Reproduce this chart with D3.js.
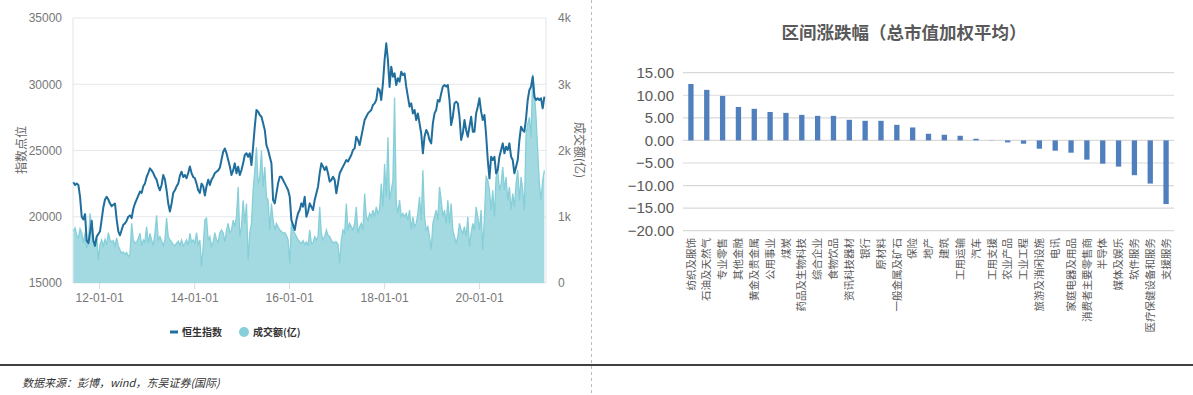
<!DOCTYPE html>
<html>
<head>
<meta charset="utf-8">
<script src="https://cdn.jsdelivr.net/npm/d3@7"></script>
<style>
body { margin: 0; background: #fff; }
svg text { font-family: "Liberation Sans", "Noto Sans CJK SC", sans-serif; }
</style>
</head>
<body>
<svg id="chart" width="1193" height="395"></svg>
<script>
// Hang Seng index and turnover, one reading every 12.8 days
var hsiStart = new Date(2011, 5, 17);
var stepDays = 12.8;

var hsiValues = [
    22600,22400,22500,22400,21500,20000,19800,20200,18200,18000,
    18800,19700,18200,17800,18500,18700,18900,19800,20700,21300,
    21500,21300,21000,20800,20900,21000,19800,18900,18600,19000,
    19400,19500,19700,20000,20100,19900,20600,21000,21300,21600,
    21900,21800,22300,22500,23000,23300,23650,23500,23300,23000,
    22800,22300,22000,22400,23150,22800,22000,21000,20400,21000,
    21800,22000,22300,22500,23100,23400,23000,23150,22900,23300,
    23800,23300,23000,22900,22500,22000,21800,22500,22300,21600,
    22300,22800,22400,22800,23000,23300,23400,23500,23700,24300,
    24900,25150,24800,24300,23800,23150,23500,
    24030,23280,23780,23150,23530,24030,24660,24790,24530,24790,
    23900,25290,26800,28060,27930,27680,27550,27050,26550,25400,
    25040,24530,24030,21260,21010,21770,22520,23020,23020,22770,
    22520,22270,22020,21510,19750,19380,19000,19750,20260,20510,
    21010,20760,21510,20000,20380,21010,20760,20510,21260,21770,
    22270,23280,24030,23780,23530,23780,23280,22650,22770,23020,
    22770,21770,22520,23280,23530,23780,24030,24280,24160,24410,
    24660,25040,25160,26040,25790,25410,26040,26670,27300,27550,
    27800,27930,28060,28430,28560,28810,29690,29570,28810,30070,
    31830,33090,31830,29800,31330,30570,30820,
    29940,30450,30200,30950,30700,30820,29820,29060,28310,28560,
    27800,28060,27300,27800,27050,26300,24790,26040,26550,26300,
    25790,25540,27050,27800,28060,28810,28690,29310,29820,29940,
    29820,29940,28810,26920,27550,28560,28690,28560,27550,25790,
    26300,27300,26550,26040,26800,27550,26420,26420,27800,28310,
    28940,27930,27300,27680,26170,24280,22900,24530,24280,24530,
    23280,23530,24530,25040,25540,24790,25290,25040,25540,24530,
    24280,23280,23780,24280,25790,26800,26550,26420,27430,28810,
    29570,29820,30570,29060,28810,28940,28810,28940,28180,29060
];

var turnoverValues = [
    780,830,720,680,820,760,600,760,520,600,
    1050,820,650,560,700,350,580,650,560,660,
    580,760,650,620,640,560,680,560,500,450,
    470,430,460,400,430,900,650,600,620,670,
    750,560,650,620,850,600,750,650,560,750,
    1020,650,700,640,560,650,980,700,650,620,
    580,560,600,630,570,650,560,600,650,570,
    750,620,650,600,760,570,650,250,550,950,
    980,650,700,560,620,760,650,620,760,800,
    760,620,800,900,760,800,950,
    850,1000,1450,700,850,1250,900,1200,350,750,
    900,1400,1700,2050,1500,1600,2000,1450,1750,1300,
    1250,800,1200,950,800,900,850,800,780,750,
    760,720,650,300,900,800,750,700,650,620,
    600,640,580,620,560,800,600,600,700,650,
    700,1150,750,650,700,800,720,700,650,600,
    620,620,580,300,650,800,750,1200,800,900,
    850,800,900,1150,750,850,900,800,1350,1000,
    950,1050,1000,1100,1000,1150,1050,1100,1500,1150,
    1800,1300,2200,1250,1400,1550,2800,
    1200,1050,1250,1000,1050,1000,1050,950,1100,800,
    1000,850,900,1050,1300,950,1700,1000,800,850,
    700,500,900,1000,1100,950,1450,1250,1000,1100,
    900,1250,900,1200,800,700,600,700,900,800,
    750,850,700,1000,550,750,900,800,1150,1000,
    800,1100,500,1000,1600,1550,1400,1100,1400,1000,
    1600,1700,1400,1500,1750,1400,1600,1250,1450,1100,
    1350,1150,1500,1700,1250,1600,1400,1100,2250,2400,
    2500,2200,3150,2900,2500,2000,1500,1250,1550,1700
];

var xTickDates = ["2012-01-01", "2014-01-01", "2016-01-01", "2018-01-01", "2020-01-01"];
var indexTicks = [15000, 20000, 25000, 30000, 35000];
var turnoverTicks = [0, 1000, 2000, 3000, 4000];
var turnoverTickLabels = ["0", "1k", "2k", "3k", "4k"];

// sector returns
var sectors = ["纺织及服饰","石油及天然气","专业零售","其他金融","黄金及贵金属","公用事业","煤炭",
    "药品及生物科技","综合企业","食物饮品","资讯科技器材","银行","原材料","一般金属及矿石","保险",
    "地产","建筑","工用运输","汽车","工用支援","农业产品","工业工程","旅游及消闲设施","电讯",
    "家庭电器及用品","消费者主要零售商","半导体","媒体及娱乐","软件服务","医疗保健设备和服务","支援服务"];
var sectorChange = [12.5,11.2,9.85,7.4,7.0,6.3,6.1,5.66,5.44,5.44,4.56,4.34,4.34,3.45,2.87,
    1.47,1.25,1.03,0.37,0.04,-0.44,-0.73,-1.84,-2.28,-2.72,-4.26,-5.15,-5.8,-7.7,-9.56,-14.1];
var barTicks = [15, 10, 5, 0, -5, -10, -15, -20];

var svg = d3.select("#chart");
var narrow = '"Liberation Sans Narrow", "Liberation Sans", sans-serif';
var cjk = '"Noto Sans CJK SC", sans-serif';

//Draw the index / turnover chart
function DrawLineChart() {
    var left = 73, right = 546, top = 18, bottom = 283;
    var dates = hsiValues.map((v, i) => new Date(hsiStart.getTime() + i * stepDays * 86400000));

    var x = d3.scaleTime().domain([new Date(2011, 5, 14), new Date(2021, 4, 30)]).range([left, right]);
    var y = d3.scaleLinear().domain([15000, 35000]).range([bottom, top]);
    var y2 = d3.scaleLinear().domain([0, 4000]).range([bottom, top]);

    var g = svg.append("g");

    g.selectAll(".grid").data(indexTicks).join("line")
        .attr("x1", left).attr("x2", right)
        .attr("y1", d => y(d)).attr("y2", d => y(d))
        .attr("stroke", "#e4e7ec").attr("stroke-width", 1);
    g.append("line").attr("x1", left).attr("x2", left).attr("y1", top).attr("y2", bottom).attr("stroke", "#dfe4ec");
    g.append("line").attr("x1", right).attr("x2", right).attr("y1", top).attr("y2", bottom).attr("stroke", "#dfe4ec");

    var area = d3.area().x((d, i) => x(dates[i])).y0(bottom).y1(d => y2(d));
    g.append("path").datum(turnoverValues).attr("d", area).attr("fill", "#a3d9e0");
    g.append("path").datum(turnoverValues)
        .attr("d", d3.line().x((d, i) => x(dates[i])).y(d => y2(d)))
        .attr("fill", "none").attr("stroke", "#86cfd8").attr("stroke-width", 1.3);

    g.append("path").datum(hsiValues)
        .attr("d", d3.line().x((d, i) => x(dates[i])).y(d => y(d)))
        .attr("fill", "none").attr("stroke", "#1f6e9c").attr("stroke-width", 2)
        .attr("stroke-linejoin", "round");

    var xAxis = g.append("g").attr("transform", `translate(0,${bottom})`)
        .call(d3.axisBottom(x).tickValues(xTickDates.map(d => d3.timeParse("%Y-%m-%d")(d)))
            .tickFormat(d3.timeFormat("%y-%m-%d")).tickSize(6).tickPadding(4));
    xAxis.select(".domain").remove();
    xAxis.selectAll("line").attr("stroke", "#d5dce6");
    xAxis.selectAll("text").attr("fill", "#777").style("font-family", narrow).style("font-size", "12px");

    var yAxis = g.append("g").attr("transform", `translate(${left},0)`)
        .call(d3.axisLeft(y).tickValues(indexTicks).tickFormat(d3.format("d")).tickSize(0).tickPadding(11));
    yAxis.select(".domain").remove();
    yAxis.selectAll("text").attr("fill", "#777").style("font-family", narrow).style("font-size", "12px");

    var y2Axis = g.append("g").attr("transform", `translate(${right},0)`)
        .call(d3.axisRight(y2).tickValues(turnoverTicks).tickFormat((d, i) => turnoverTickLabels[i]).tickSize(0).tickPadding(12));
    y2Axis.select(".domain").remove();
    y2Axis.selectAll("text").attr("fill", "#777").style("font-family", narrow).style("font-size", "12px");

    g.append("text").attr("transform", "translate(22,150) rotate(-90)")
        .attr("text-anchor", "middle").attr("dy", "0.35em")
        .attr("fill", "#666").style("font-family", cjk).style("font-size", "12px").text("指数点位");
    g.append("text").attr("transform", "translate(579,150) rotate(90)")
        .attr("text-anchor", "middle").attr("dy", "0.35em")
        .attr("fill", "#666").style("font-family", cjk).style("font-size", "12px").text("成交额(亿)");

    // legend
    var lg = g.append("g").attr("transform", "translate(0,332)");
    lg.append("line").attr("x1", 170).attr("x2", 178).attr("stroke", "#1f6e9c").attr("stroke-width", 3);
    lg.append("text").attr("x", 182).attr("dy", "0.35em").attr("fill", "#333")
        .style("font-family", cjk).style("font-size", "10px").style("font-weight", "bold").text("恒生指数");
    lg.append("circle").attr("cx", 244).attr("r", 5).attr("fill", "#86cfd8");
    lg.append("text").attr("x", 253).attr("dy", "0.35em").attr("fill", "#333")
        .style("font-family", cjk).style("font-size", "10px").style("font-weight", "bold").text("成交额(亿)");
}

//Draw the sector bar chart
function DrawBarChart() {
    var left = 683, right = 1174, top = 72.7, bottom = 230.7;

    var x = d3.scaleBand().domain(sectors).range([left, right]).paddingInner(0.665).paddingOuter(0.3325);
    var y = d3.scaleLinear().domain([-20, 15]).range([bottom, top]);

    var g = svg.append("g");

    g.append("text").attr("x", 904).attr("y", 33).attr("dy", "0.35em").attr("text-anchor", "middle")
        .attr("fill", "#595959").style("font-family", cjk).style("font-size", "17.5px").style("font-weight", "bold")
        .text("区间涨跌幅（总市值加权平均）");

    g.selectAll(".grid").data(barTicks).join("line")
        .attr("x1", left).attr("x2", right)
        .attr("y1", d => y(d)).attr("y2", d => y(d))
        .attr("stroke", "#d9d9d9").attr("stroke-width", 1.2);

    var yAxis = g.append("g").attr("transform", `translate(${left},0)`)
        .call(d3.axisLeft(y).tickValues(barTicks).tickFormat(d3.format(".2f")).tickSize(0).tickPadding(9));
    yAxis.select(".domain").remove();
    yAxis.selectAll("text").attr("fill", "#595959").style("font-size", "15px");

    g.selectAll(".bar").data(sectorChange).join("rect")
        .attr("x", (d, i) => x(sectors[i]))
        .attr("width", x.bandwidth())
        .attr("y", d => y(Math.max(0, d)))
        .attr("height", d => Math.abs(y(d) - y(0)))
        .attr("fill", "#4f7fbd");

    g.selectAll(".cat").data(sectors).join("text")
        .attr("transform", d => `translate(${x(d) + x.bandwidth() / 2},238) rotate(-90)`)
        .attr("text-anchor", "end").attr("dy", "0.35em")
        .attr("fill", "#595959").style("font-family", cjk).style("font-size", "10.5px")
        .text(d => d);
}

function DrawFrame() {
    svg.append("line").attr("x1", 591.5).attr("x2", 591.5).attr("y1", 0).attr("y2", 395)
        .attr("stroke", "#bbb").attr("stroke-dasharray", "3,3");
    svg.append("line").attr("x1", 0).attr("x2", 1193).attr("y1", 365).attr("y2", 365)
        .attr("stroke", "#000").attr("stroke-width", 1.5);
    svg.append("text").attr("x", 22).attr("y", 383).attr("dy", "0.35em")
        .attr("fill", "#333").style("font-family", cjk).style("font-size", "11px").style("font-style", "italic")
        .text("数据来源：彭博，wind，东吴证券(国际)");
}

DrawFrame();
DrawLineChart();
DrawBarChart();
</script>
</body>
</html>
